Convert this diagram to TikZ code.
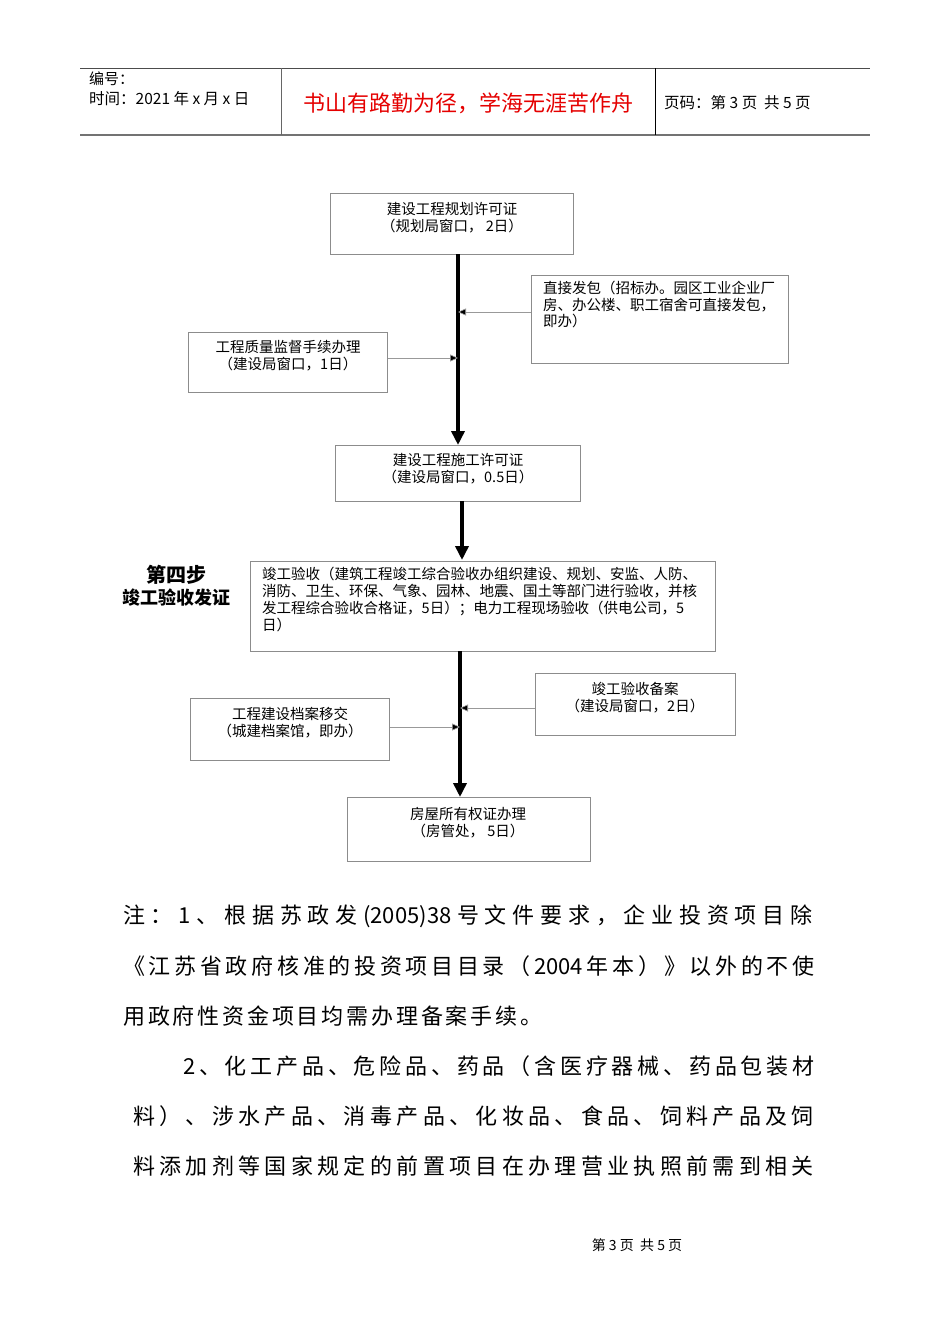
\documentclass[tikz,border=0pt]{standalone}
\usepackage{fontspec}
\setmainfont{Noto Sans CJK SC}
\newfontfamily\cjk{Noto Sans CJK SC}
\usetikzlibrary{arrows.meta}
\def\spend{\relax}
\def\spx#1{\def\sptmp{#1}\ifx\sptmp\spend\else\hfil#1\expandafter\spx\fi}
\newcommand\spreadtxt[2]{\makebox[#1][l]{\hfilneg\spx#2\relax}}
\tikzset{
 box/.style={draw=black!45,line width=0.7pt,inner sep=0pt,anchor=north west},
 btxt/.style={font=\fontsize{14.5}{16.8}\selectfont,align=center,anchor=north},
 thin/.style={draw=black!40,line width=0.6pt,-{Triangle[length=8pt,width=7pt,fill=black]}},
 thick/.style={line width=4pt,-{Triangle[length=14pt,width=13pt]}},
 note/.style={font=\fontsize{22}{22}\selectfont,anchor=west,inner sep=0pt}
}
\begin{document}
\begin{tikzpicture}[x=1pt,y=-1pt]
\useasboundingbox[fill=white] (0,0) rectangle (950,1344);
% header
\draw[line width=0.8pt,black!70] (80,68) -- (870,68);
\draw[line width=1.2pt,black!55] (80,135) -- (870,135);
\draw[line width=0.8pt,black!60] (281,68) -- (281,135);
\draw[line width=0.8pt] (655,68) -- (655,135);
\node[anchor=west,inner sep=0pt,font=\fontsize{15}{15}\selectfont] (h1) at (89,79) {编号：};
\node[anchor=west,inner sep=0pt,font=\fontsize{15.5}{15}\selectfont] (h2) at (89,99) {时间：2021 年 x 月 x 日};
\node[inner sep=0pt,text=red!90!black,font=\fontsize{22}{22}\selectfont] (h3) at (468,103) {书山有路勤为径，学海无涯苦作舟};
\node[anchor=west,inner sep=0pt,font=\fontsize{15.5}{15}\selectfont] (h4) at (664,103) {页码：第 3 页\ \ 共 5 页};
% boxes
\node[box,minimum width=243pt,minimum height=61pt] (b1) at (330,193) {};
\node[btxt] (t1) at (452,199) {建设工程规划许可证\\（规划局窗口，\ 2日）};
\node[box,minimum width=257pt,minimum height=88pt] (bd) at (531,275) {};
\node[anchor=north west,inner sep=0pt,font=\fontsize{14.5}{16.5}\selectfont,align=left] (td) at (543,281) {直接发包（招标办。园区工业企业厂\\房、办公楼、职工宿舍可直接发包，\\即办）};
\node[box,minimum width=199pt,minimum height=60pt] (bq) at (188,332) {};
\node[btxt] (tq) at (288,337) {工程质量监督手续办理\\（建设局窗口，1日）};
\node[box,minimum width=245pt,minimum height=56pt] (b2) at (335,445) {};
\node[btxt] (t2) at (458,450) {建设工程施工许可证\\（建设局窗口，0.5日）};
\node[box,minimum width=465pt,minimum height=90pt] (bb) at (250,561) {};
\node[anchor=north west,inner sep=0pt,font=\fontsize{14.5}{16.8}\selectfont,align=left] (tb) at (262,567) {竣工验收（建筑工程竣工综合验收办组织建设、规划、安监、人防、\\消防、卫生、环保、气象、园林、地震、国土等部门进行验收，并核\\发工程综合验收合格证，5日）；电力工程现场验收（供电公司，5\\日）};
\node[font=\bfseries\fontsize{20}{20}\selectfont,inner sep=0pt] (s1) at (176,575) {第四步};
\node[font=\bfseries\fontsize{18}{18}\selectfont,inner sep=0pt] (s2) at (176,598) {竣工验收发证};
\node[box,minimum width=200pt,minimum height=62pt] (bf) at (535,673) {};
\node[btxt] (tf) at (635,679) {竣工验收备案\\（建设局窗口，2日）};
\node[box,minimum width=199pt,minimum height=62pt] (ba) at (190,698) {};
\node[btxt] (ta) at (290,704) {工程建设档案移交\\（城建档案馆，即办）};
\node[box,minimum width=243pt,minimum height=64pt] (bh) at (347,797) {};
\node[btxt] (th) at (468,804) {房屋所有权证办理\\（房管处，\ 5日）};
% arrows
\coordinate (m1) at (458,254);
\coordinate (m2) at (458,445);
\draw[thick] (m1) -- (m2);
\draw[thin] (bd.west |- 0,312) -- (458,312);
\draw[thin] (bq.east |- 0,358) -- (458,358);
\draw[thick] (462,501) -- (462,560);
\draw[thick] (460,651) -- (460,797);
\draw[thin] (bf.west |- 0,708) -- (460,708);
\draw[thin] (ba.east |- 0,727) -- (460,727);
% notes
\node[note] (n1) at (123,916) {\spreadtxt{695pt}{注：{1}、根据苏政发{(2005)38}号文件要求，企业投资项目除}};
\node[note] (n2) at (123,966) {\spreadtxt{695pt}{《江苏省政府核准的投资项目目录（{2004}年本）》以外的不使}};
\node[note] (n3) at (123,1016) {\spreadtxt{422pt}{用政府性资金项目均需办理备案手续。}};
\node[note] (n4) at (183,1066) {\spreadtxt{635pt}{{2}、化工产品、危险品、药品（含医疗器械、药品包装材}};
\node[note] (n5) at (133,1116) {\spreadtxt{685pt}{料）、涉水产品、消毒产品、化妆品、食品、饲料产品及饲}};
\node[note] (n6) at (133,1166) {\spreadtxt{685pt}{料添加剂等国家规定的前置项目在办理营业执照前需到相关}};
\node[font=\fontsize{14}{14}\selectfont,inner sep=0pt] (ft) at (637,1245) {第 3 页\ \ 共 5 页};
\end{tikzpicture}
\end{document}
